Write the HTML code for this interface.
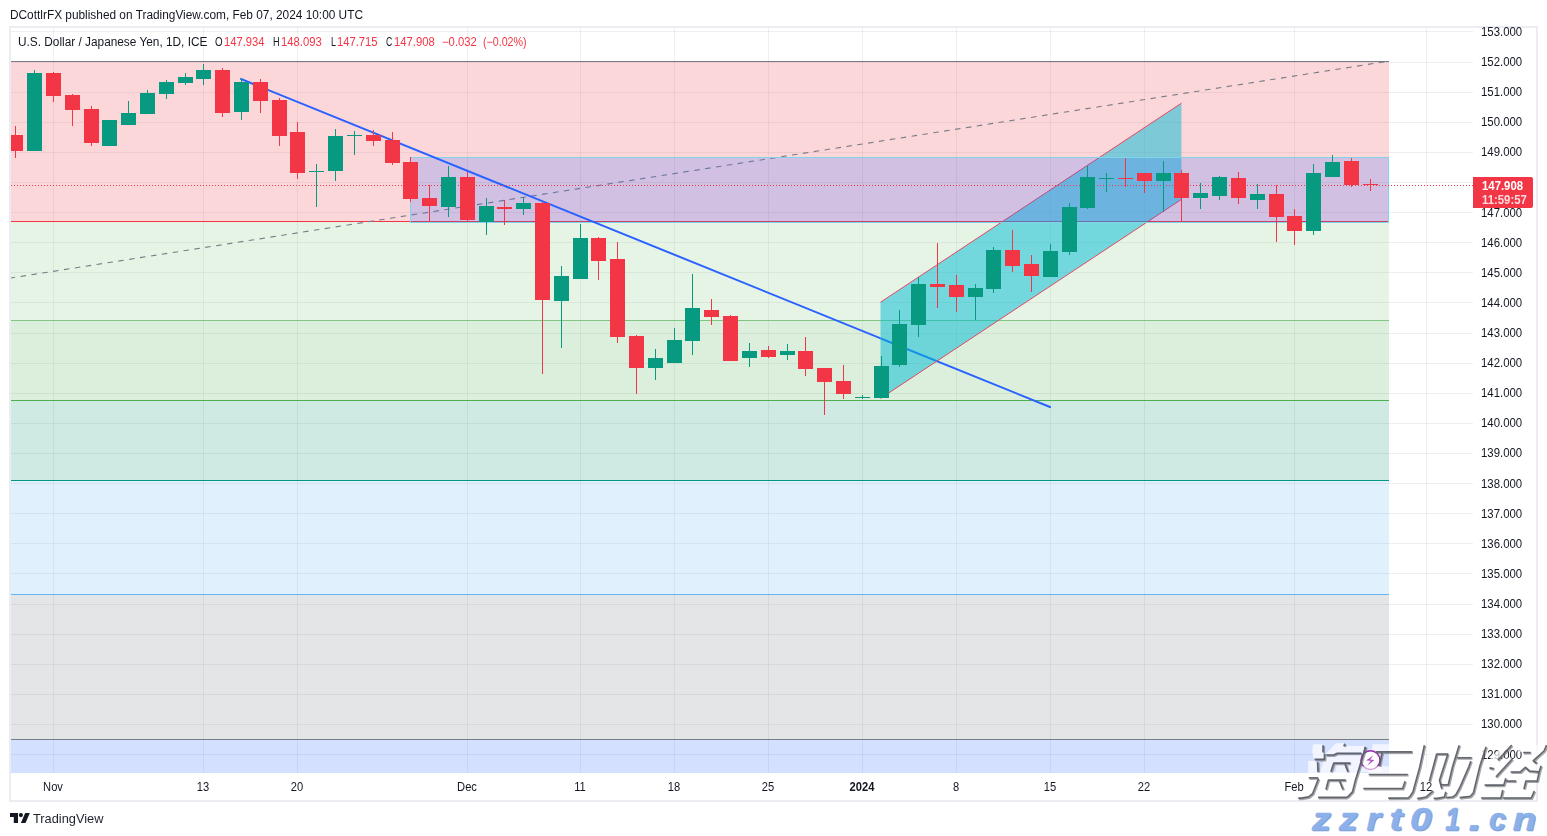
<!DOCTYPE html>
<html><head><meta charset="utf-8"><title>USDJPY</title>
<style>
html,body{margin:0;padding:0;background:#fff;}
body{width:1547px;height:836px;position:relative;overflow:hidden;font-family:"Liberation Sans",sans-serif;}
</style></head><body>
<svg width="1547" height="836" viewBox="0 0 1547 836" style="position:absolute;left:0;top:0"><rect x="10" y="27" width="1527" height="774" fill="#fff" stroke="#ebedf2" stroke-width="2"/><defs><clipPath id="pc"><rect x="11" y="28" width="1462" height="745"/></clipPath></defs><g shape-rendering="crispEdges"><rect x="53" y="28" width="1" height="745" fill="rgba(42,46,57,0.075)"/><rect x="203" y="28" width="1" height="745" fill="rgba(42,46,57,0.075)"/><rect x="297" y="28" width="1" height="745" fill="rgba(42,46,57,0.075)"/><rect x="467" y="28" width="1" height="745" fill="rgba(42,46,57,0.075)"/><rect x="580" y="28" width="1" height="745" fill="rgba(42,46,57,0.075)"/><rect x="674" y="28" width="1" height="745" fill="rgba(42,46,57,0.075)"/><rect x="768" y="28" width="1" height="745" fill="rgba(42,46,57,0.075)"/><rect x="862" y="28" width="1" height="745" fill="rgba(42,46,57,0.075)"/><rect x="956" y="28" width="1" height="745" fill="rgba(42,46,57,0.075)"/><rect x="1050" y="28" width="1" height="745" fill="rgba(42,46,57,0.075)"/><rect x="1144" y="28" width="1" height="745" fill="rgba(42,46,57,0.075)"/><rect x="1294" y="28" width="1" height="745" fill="rgba(42,46,57,0.075)"/><rect x="1426" y="28" width="1" height="745" fill="rgba(42,46,57,0.075)"/><rect x="11" y="754" width="1462" height="1" fill="rgba(42,46,57,0.075)"/><rect x="11" y="724" width="1462" height="1" fill="rgba(42,46,57,0.075)"/><rect x="11" y="694" width="1462" height="1" fill="rgba(42,46,57,0.075)"/><rect x="11" y="664" width="1462" height="1" fill="rgba(42,46,57,0.075)"/><rect x="11" y="634" width="1462" height="1" fill="rgba(42,46,57,0.075)"/><rect x="11" y="604" width="1462" height="1" fill="rgba(42,46,57,0.075)"/><rect x="11" y="573" width="1462" height="1" fill="rgba(42,46,57,0.075)"/><rect x="11" y="543" width="1462" height="1" fill="rgba(42,46,57,0.075)"/><rect x="11" y="513" width="1462" height="1" fill="rgba(42,46,57,0.075)"/><rect x="11" y="483" width="1462" height="1" fill="rgba(42,46,57,0.075)"/><rect x="11" y="453" width="1462" height="1" fill="rgba(42,46,57,0.075)"/><rect x="11" y="423" width="1462" height="1" fill="rgba(42,46,57,0.075)"/><rect x="11" y="393" width="1462" height="1" fill="rgba(42,46,57,0.075)"/><rect x="11" y="363" width="1462" height="1" fill="rgba(42,46,57,0.075)"/><rect x="11" y="333" width="1462" height="1" fill="rgba(42,46,57,0.075)"/><rect x="11" y="302" width="1462" height="1" fill="rgba(42,46,57,0.075)"/><rect x="11" y="272" width="1462" height="1" fill="rgba(42,46,57,0.075)"/><rect x="11" y="242" width="1462" height="1" fill="rgba(42,46,57,0.075)"/><rect x="11" y="212" width="1462" height="1" fill="rgba(42,46,57,0.075)"/><rect x="11" y="182" width="1462" height="1" fill="rgba(42,46,57,0.075)"/><rect x="11" y="152" width="1462" height="1" fill="rgba(42,46,57,0.075)"/><rect x="11" y="122" width="1462" height="1" fill="rgba(42,46,57,0.075)"/><rect x="11" y="92" width="1462" height="1" fill="rgba(42,46,57,0.075)"/><rect x="11" y="62" width="1462" height="1" fill="rgba(42,46,57,0.075)"/><rect x="11" y="31" width="1462" height="1" fill="rgba(42,46,57,0.075)"/><rect x="11" y="62" width="1378" height="159" fill="rgba(242,54,69,0.2)"/><rect x="11" y="222" width="1378" height="98" fill="rgba(129,199,132,0.2)"/><rect x="11" y="321" width="1378" height="79" fill="rgba(76,175,80,0.2)"/><rect x="11" y="401" width="1378" height="79" fill="rgba(15,150,115,0.2)"/><rect x="11" y="481" width="1378" height="113" fill="rgba(100,181,246,0.2)"/><rect x="11" y="595" width="1378" height="144" fill="rgba(120,123,134,0.2)"/><rect x="11" y="740" width="1378" height="33" fill="rgba(41,98,255,0.2)"/><rect x="11" y="61" width="1378" height="1" fill="#787b86"/><rect x="11" y="221" width="1378" height="1" fill="#f23645"/><rect x="11" y="320" width="1378" height="1" fill="#81c784"/><rect x="11" y="400" width="1378" height="1" fill="#4caf50"/><rect x="11" y="480" width="1378" height="1" fill="#009688"/><rect x="11" y="594" width="1378" height="1" fill="#64b5f6"/><rect x="11" y="739" width="1378" height="1" fill="#787b86"/></g><g clip-path="url(#pc)"><defs><clipPath id="bl1"><rect x="880.5" y="60" width="300" height="400"/></clipPath></defs><line x1="241" y1="79.0" x2="1050" y2="407.0" stroke="#2962ff" stroke-width="2" stroke-linecap="round" clip-path="url(#bl1)"/><line x1="-2919" y1="739.1" x2="1389" y2="61.1" stroke="#787b86" stroke-width="1.1" stroke-dasharray="5.5 5.5" stroke-dashoffset="5.3"/><polygon points="880.5,302.2 1181.4,103.2 1181.4,199.4 880.5,398.4" fill="rgba(0,188,212,0.5)"/><line x1="880.5" y1="302.2" x2="1181.4" y2="103.2" stroke="#e8405c" stroke-width="0.95"/><line x1="880.5" y1="398.4" x2="1181.4" y2="199.4" stroke="#e8405c" stroke-width="0.95"/></g><g shape-rendering="crispEdges"><rect x="411" y="158" width="978" height="64" fill="rgba(41,98,255,0.2)"/><rect x="410.5" y="157.5" width="978" height="65" fill="none" stroke="#7fd6e8" stroke-width="1"/></g><defs><clipPath id="bl2"><rect x="230" y="60" width="650.5" height="300"/></clipPath></defs><line x1="241" y1="79.0" x2="1050" y2="407.0" stroke="#2962ff" stroke-width="2" stroke-linecap="round" clip-path="url(#bl2)"/><g shape-rendering="crispEdges"><line x1="11" y1="185.5" x2="1473" y2="185.5" stroke="#f23645" stroke-width="1" stroke-dasharray="1 2"/><rect x="15" y="126" width="1" height="32" fill="#f23645"/><rect x="8" y="135" width="15" height="16" fill="#f23645"/><rect x="34" y="70" width="1" height="81" fill="#089981"/><rect x="27" y="73" width="15" height="78" fill="#089981"/><rect x="53" y="72" width="1" height="30" fill="#f23645"/><rect x="46" y="73" width="15" height="23" fill="#f23645"/><rect x="72" y="94" width="1" height="32" fill="#f23645"/><rect x="65" y="95" width="15" height="15" fill="#f23645"/><rect x="91" y="106" width="1" height="40" fill="#f23645"/><rect x="84" y="109" width="15" height="34" fill="#f23645"/><rect x="109" y="120" width="1" height="26" fill="#089981"/><rect x="102" y="120" width="15" height="26" fill="#089981"/><rect x="128" y="101" width="1" height="24" fill="#089981"/><rect x="121" y="113" width="15" height="12" fill="#089981"/><rect x="147" y="90" width="1" height="24" fill="#089981"/><rect x="140" y="93" width="15" height="21" fill="#089981"/><rect x="166" y="80" width="1" height="19" fill="#089981"/><rect x="159" y="82" width="15" height="12" fill="#089981"/><rect x="185" y="73" width="1" height="12" fill="#089981"/><rect x="178" y="77" width="15" height="6" fill="#089981"/><rect x="203" y="64" width="1" height="21" fill="#089981"/><rect x="196" y="70" width="15" height="9" fill="#089981"/><rect x="222" y="68" width="1" height="49" fill="#f23645"/><rect x="215" y="70" width="15" height="43" fill="#f23645"/><rect x="241" y="78" width="1" height="42" fill="#089981"/><rect x="234" y="82" width="15" height="30" fill="#089981"/><rect x="260" y="79" width="1" height="34" fill="#f23645"/><rect x="253" y="82" width="15" height="19" fill="#f23645"/><rect x="279" y="98" width="1" height="48" fill="#f23645"/><rect x="272" y="100" width="15" height="36" fill="#f23645"/><rect x="297" y="122" width="1" height="57" fill="#f23645"/><rect x="290" y="132" width="15" height="41" fill="#f23645"/><rect x="316" y="164" width="1" height="43" fill="#089981"/><rect x="309" y="171" width="15" height="1" fill="#089981"/><rect x="335" y="129" width="1" height="52" fill="#089981"/><rect x="328" y="136" width="15" height="35" fill="#089981"/><rect x="354" y="131" width="1" height="24" fill="#089981"/><rect x="347" y="135" width="15" height="1" fill="#089981"/><rect x="373" y="130" width="1" height="16" fill="#f23645"/><rect x="366" y="135" width="15" height="6" fill="#f23645"/><rect x="392" y="132" width="1" height="33" fill="#f23645"/><rect x="385" y="140" width="15" height="23" fill="#f23645"/><rect x="410" y="157" width="1" height="45" fill="#f23645"/><rect x="403" y="162" width="15" height="37" fill="#f23645"/><rect x="429" y="185" width="1" height="37" fill="#f23645"/><rect x="422" y="198" width="15" height="8" fill="#f23645"/><rect x="448" y="166" width="1" height="51" fill="#089981"/><rect x="441" y="177" width="15" height="30" fill="#089981"/><rect x="467" y="172" width="1" height="50" fill="#f23645"/><rect x="460" y="177" width="15" height="43" fill="#f23645"/><rect x="486" y="198" width="1" height="37" fill="#089981"/><rect x="479" y="206" width="15" height="16" fill="#089981"/><rect x="504" y="200" width="1" height="25" fill="#f23645"/><rect x="497" y="207" width="15" height="2" fill="#f23645"/><rect x="523" y="197" width="1" height="18" fill="#089981"/><rect x="516" y="203" width="15" height="6" fill="#089981"/><rect x="542" y="202" width="1" height="172" fill="#f23645"/><rect x="535" y="203" width="15" height="97" fill="#f23645"/><rect x="561" y="266" width="1" height="82" fill="#089981"/><rect x="554" y="276" width="15" height="25" fill="#089981"/><rect x="580" y="224" width="1" height="55" fill="#089981"/><rect x="573" y="238" width="15" height="41" fill="#089981"/><rect x="598" y="237" width="1" height="43" fill="#f23645"/><rect x="591" y="238" width="15" height="23" fill="#f23645"/><rect x="617" y="242" width="1" height="101" fill="#f23645"/><rect x="610" y="259" width="15" height="78" fill="#f23645"/><rect x="636" y="335" width="1" height="59" fill="#f23645"/><rect x="629" y="336" width="15" height="32" fill="#f23645"/><rect x="655" y="349" width="1" height="31" fill="#089981"/><rect x="648" y="358" width="15" height="10" fill="#089981"/><rect x="674" y="328" width="1" height="35" fill="#089981"/><rect x="667" y="340" width="15" height="23" fill="#089981"/><rect x="692" y="274" width="1" height="81" fill="#089981"/><rect x="685" y="308" width="15" height="33" fill="#089981"/><rect x="711" y="299" width="1" height="26" fill="#f23645"/><rect x="704" y="310" width="15" height="7" fill="#f23645"/><rect x="730" y="315" width="1" height="46" fill="#f23645"/><rect x="723" y="316" width="15" height="45" fill="#f23645"/><rect x="749" y="343" width="1" height="24" fill="#089981"/><rect x="742" y="351" width="15" height="7" fill="#089981"/><rect x="768" y="346" width="1" height="12" fill="#f23645"/><rect x="761" y="350" width="15" height="7" fill="#f23645"/><rect x="787" y="344" width="1" height="16" fill="#089981"/><rect x="780" y="351" width="15" height="4" fill="#089981"/><rect x="805" y="337" width="1" height="39" fill="#f23645"/><rect x="798" y="351" width="15" height="18" fill="#f23645"/><rect x="824" y="368" width="1" height="47" fill="#f23645"/><rect x="817" y="368" width="15" height="14" fill="#f23645"/><rect x="843" y="365" width="1" height="34" fill="#f23645"/><rect x="836" y="381" width="15" height="13" fill="#f23645"/><rect x="862" y="395" width="1" height="4" fill="#089981"/><rect x="855" y="397" width="15" height="1" fill="#089981"/><rect x="881" y="356" width="1" height="42" fill="#089981"/><rect x="874" y="366" width="15" height="32" fill="#089981"/><rect x="899" y="310" width="1" height="57" fill="#089981"/><rect x="892" y="324" width="15" height="41" fill="#089981"/><rect x="918" y="277" width="1" height="60" fill="#089981"/><rect x="911" y="284" width="15" height="41" fill="#089981"/><rect x="937" y="243" width="1" height="65" fill="#f23645"/><rect x="930" y="284" width="15" height="3" fill="#f23645"/><rect x="956" y="275" width="1" height="37" fill="#f23645"/><rect x="949" y="285" width="15" height="12" fill="#f23645"/><rect x="975" y="284" width="1" height="36" fill="#089981"/><rect x="968" y="288" width="15" height="9" fill="#089981"/><rect x="993" y="247" width="1" height="46" fill="#089981"/><rect x="986" y="250" width="15" height="39" fill="#089981"/><rect x="1012" y="230" width="1" height="42" fill="#f23645"/><rect x="1005" y="250" width="15" height="16" fill="#f23645"/><rect x="1031" y="255" width="1" height="37" fill="#f23645"/><rect x="1024" y="264" width="15" height="12" fill="#f23645"/><rect x="1050" y="244" width="1" height="33" fill="#089981"/><rect x="1043" y="251" width="15" height="26" fill="#089981"/><rect x="1069" y="203" width="1" height="52" fill="#089981"/><rect x="1062" y="207" width="15" height="45" fill="#089981"/><rect x="1087" y="166" width="1" height="43" fill="#089981"/><rect x="1080" y="177" width="15" height="31" fill="#089981"/><rect x="1106" y="173" width="1" height="19" fill="#089981"/><rect x="1099" y="178" width="15" height="1" fill="#089981"/><rect x="1125" y="158" width="1" height="29" fill="#f23645"/><rect x="1118" y="178" width="15" height="1" fill="#f23645"/><rect x="1144" y="173" width="1" height="20" fill="#f23645"/><rect x="1137" y="173" width="15" height="8" fill="#f23645"/><rect x="1163" y="161" width="1" height="51" fill="#089981"/><rect x="1156" y="173" width="15" height="8" fill="#089981"/><rect x="1181" y="170" width="1" height="51" fill="#f23645"/><rect x="1174" y="173" width="15" height="25" fill="#f23645"/><rect x="1200" y="183" width="1" height="26" fill="#089981"/><rect x="1193" y="193" width="15" height="5" fill="#089981"/><rect x="1219" y="176" width="1" height="24" fill="#089981"/><rect x="1212" y="177" width="15" height="19" fill="#089981"/><rect x="1238" y="172" width="1" height="32" fill="#f23645"/><rect x="1231" y="178" width="15" height="20" fill="#f23645"/><rect x="1257" y="184" width="1" height="25" fill="#089981"/><rect x="1250" y="194" width="15" height="6" fill="#089981"/><rect x="1276" y="185" width="1" height="57" fill="#f23645"/><rect x="1269" y="194" width="15" height="23" fill="#f23645"/><rect x="1294" y="209" width="1" height="36" fill="#f23645"/><rect x="1287" y="216" width="15" height="15" fill="#f23645"/><rect x="1313" y="164" width="1" height="71" fill="#089981"/><rect x="1306" y="173" width="15" height="58" fill="#089981"/><rect x="1332" y="155" width="1" height="22" fill="#089981"/><rect x="1325" y="162" width="15" height="15" fill="#089981"/><rect x="1351" y="158" width="1" height="29" fill="#f23645"/><rect x="1344" y="161" width="15" height="24" fill="#f23645"/><rect x="1370" y="179" width="1" height="12" fill="#f23645"/><rect x="1363" y="184" width="15" height="1" fill="#f23645"/></g><rect x="0" y="100" width="9" height="80" fill="#fff"/><rect x="9" y="100" width="2" height="80" fill="#ebedf2"/><path d="M1473 177h58a2 2 0 0 1 2 2v27a2 2 0 0 1 -2 2h-58z" fill="#f23645"/><g fill="#131722"><path d="M10 813h8v10h-4.2v-5.9h-3.8z"/><circle cx="20.9" cy="815.1" r="2.1"/><path d="M25.2 813h4.6l-4.3 10h-4.6z"/></g></svg>
<div style="position:absolute;left:10.2px;top:9.04px;font-size:12px;line-height:13.80px;font-weight:400;color:#131722;white-space:pre;transform-origin:left center;transform:scaleX(0.9879);">DCottlrFX published on TradingView.com, Feb 07, 2024 10:00 UTC</div><div style="position:absolute;left:18.3px;top:36.04px;font-size:12px;line-height:13.80px;font-weight:400;color:#131722;white-space:pre;transform-origin:left center;transform:scaleX(0.9859);">U.S. Dollar / Japanese Yen, 1D, ICE</div><div style="position:absolute;left:215px;top:36.04px;font-size:12px;line-height:13.80px;font-weight:400;color:#131722;white-space:pre;transform-origin:left center;transform:scaleX(0.8137);">O</div><div style="position:absolute;left:224.3px;top:36.04px;font-size:12px;line-height:13.80px;font-weight:400;color:#f23645;white-space:pre;transform-origin:left center;transform:scaleX(0.9357);">147.934</div><div style="position:absolute;left:273.1px;top:36.04px;font-size:12px;line-height:13.80px;font-weight:400;color:#131722;white-space:pre;transform-origin:left center;transform:scaleX(0.7612);">H</div><div style="position:absolute;left:281.3px;top:36.04px;font-size:12px;line-height:13.80px;font-weight:400;color:#f23645;white-space:pre;transform-origin:left center;transform:scaleX(0.9380);">148.093</div><div style="position:absolute;left:330.7px;top:36.04px;font-size:12px;line-height:13.80px;font-weight:400;color:#131722;white-space:pre;transform-origin:left center;transform:scaleX(0.7474);">L</div><div style="position:absolute;left:336.8px;top:36.04px;font-size:12px;line-height:13.80px;font-weight:400;color:#f23645;white-space:pre;transform-origin:left center;transform:scaleX(0.9334);">147.715</div><div style="position:absolute;left:385.7px;top:36.04px;font-size:12px;line-height:13.80px;font-weight:400;color:#131722;white-space:pre;transform-origin:left center;transform:scaleX(0.7266);">C</div><div style="position:absolute;left:393.5px;top:36.04px;font-size:12px;line-height:13.80px;font-weight:400;color:#f23645;white-space:pre;transform-origin:left center;transform:scaleX(0.9380);">147.908</div><div style="position:absolute;left:442.4px;top:36.04px;font-size:12px;line-height:13.80px;font-weight:400;color:#f23645;white-space:pre;transform-origin:left center;transform:scaleX(0.9420);">−0.032</div><div style="position:absolute;left:482.5px;top:36.04px;font-size:12px;line-height:13.80px;font-weight:400;color:#f23645;white-space:pre;transform-origin:left center;transform:scaleX(0.8893);">(−0.02%)</div><div style="position:absolute;left:1481.1px;top:749.24px;font-size:12px;line-height:13.80px;font-weight:400;color:#131722;white-space:pre;transform-origin:left center;transform:scaleX(0.9495);">129.000</div><div style="position:absolute;left:1481.1px;top:718.24px;font-size:12px;line-height:13.80px;font-weight:400;color:#131722;white-space:pre;transform-origin:left center;transform:scaleX(0.9495);">130.000</div><div style="position:absolute;left:1481.1px;top:688.24px;font-size:12px;line-height:13.80px;font-weight:400;color:#131722;white-space:pre;transform-origin:left center;transform:scaleX(0.9495);">131.000</div><div style="position:absolute;left:1481.1px;top:658.24px;font-size:12px;line-height:13.80px;font-weight:400;color:#131722;white-space:pre;transform-origin:left center;transform:scaleX(0.9495);">132.000</div><div style="position:absolute;left:1481.1px;top:628.24px;font-size:12px;line-height:13.80px;font-weight:400;color:#131722;white-space:pre;transform-origin:left center;transform:scaleX(0.9495);">133.000</div><div style="position:absolute;left:1481.1px;top:598.24px;font-size:12px;line-height:13.80px;font-weight:400;color:#131722;white-space:pre;transform-origin:left center;transform:scaleX(0.9495);">134.000</div><div style="position:absolute;left:1481.1px;top:568.24px;font-size:12px;line-height:13.80px;font-weight:400;color:#131722;white-space:pre;transform-origin:left center;transform:scaleX(0.9495);">135.000</div><div style="position:absolute;left:1481.1px;top:538.24px;font-size:12px;line-height:13.80px;font-weight:400;color:#131722;white-space:pre;transform-origin:left center;transform:scaleX(0.9495);">136.000</div><div style="position:absolute;left:1481.1px;top:508.24px;font-size:12px;line-height:13.80px;font-weight:400;color:#131722;white-space:pre;transform-origin:left center;transform:scaleX(0.9495);">137.000</div><div style="position:absolute;left:1481.1px;top:478.24px;font-size:12px;line-height:13.80px;font-weight:400;color:#131722;white-space:pre;transform-origin:left center;transform:scaleX(0.9495);">138.000</div><div style="position:absolute;left:1481.1px;top:447.24px;font-size:12px;line-height:13.80px;font-weight:400;color:#131722;white-space:pre;transform-origin:left center;transform:scaleX(0.9495);">139.000</div><div style="position:absolute;left:1481.1px;top:417.24px;font-size:12px;line-height:13.80px;font-weight:400;color:#131722;white-space:pre;transform-origin:left center;transform:scaleX(0.9495);">140.000</div><div style="position:absolute;left:1481.1px;top:387.24px;font-size:12px;line-height:13.80px;font-weight:400;color:#131722;white-space:pre;transform-origin:left center;transform:scaleX(0.9495);">141.000</div><div style="position:absolute;left:1481.1px;top:357.24px;font-size:12px;line-height:13.80px;font-weight:400;color:#131722;white-space:pre;transform-origin:left center;transform:scaleX(0.9495);">142.000</div><div style="position:absolute;left:1481.1px;top:327.24px;font-size:12px;line-height:13.80px;font-weight:400;color:#131722;white-space:pre;transform-origin:left center;transform:scaleX(0.9495);">143.000</div><div style="position:absolute;left:1481.1px;top:297.24px;font-size:12px;line-height:13.80px;font-weight:400;color:#131722;white-space:pre;transform-origin:left center;transform:scaleX(0.9495);">144.000</div><div style="position:absolute;left:1481.1px;top:267.24px;font-size:12px;line-height:13.80px;font-weight:400;color:#131722;white-space:pre;transform-origin:left center;transform:scaleX(0.9495);">145.000</div><div style="position:absolute;left:1481.1px;top:237.24px;font-size:12px;line-height:13.80px;font-weight:400;color:#131722;white-space:pre;transform-origin:left center;transform:scaleX(0.9495);">146.000</div><div style="position:absolute;left:1481.1px;top:207.24px;font-size:12px;line-height:13.80px;font-weight:400;color:#131722;white-space:pre;transform-origin:left center;transform:scaleX(0.9495);">147.000</div><div style="position:absolute;left:1481.1px;top:146.24px;font-size:12px;line-height:13.80px;font-weight:400;color:#131722;white-space:pre;transform-origin:left center;transform:scaleX(0.9495);">149.000</div><div style="position:absolute;left:1481.1px;top:116.24px;font-size:12px;line-height:13.80px;font-weight:400;color:#131722;white-space:pre;transform-origin:left center;transform:scaleX(0.9495);">150.000</div><div style="position:absolute;left:1481.1px;top:86.24px;font-size:12px;line-height:13.80px;font-weight:400;color:#131722;white-space:pre;transform-origin:left center;transform:scaleX(0.9495);">151.000</div><div style="position:absolute;left:1481.1px;top:56.24px;font-size:12px;line-height:13.80px;font-weight:400;color:#131722;white-space:pre;transform-origin:left center;transform:scaleX(0.9495);">152.000</div><div style="position:absolute;left:1481.1px;top:26.24px;font-size:12px;line-height:13.80px;font-weight:400;color:#131722;white-space:pre;transform-origin:left center;transform:scaleX(0.9495);">153.000</div><div style="position:absolute;left:1481.8px;top:179.94px;font-size:12px;line-height:13.80px;font-weight:700;color:#fff;white-space:pre;transform-origin:left center;transform:scaleX(0.9472);">147.908</div><div style="position:absolute;left:1481.8px;top:193.84px;font-size:12px;line-height:13.80px;font-weight:700;color:rgba(255,255,255,0.82);white-space:pre;transform-origin:left center;transform:scaleX(0.9455);">11:59:57</div><div style="position:absolute;left:-47.3px;width:200px;text-align:center;top:781.04px;font-size:12px;line-height:13.80px;font-weight:400;color:#131722;white-space:pre;transform-origin:center center;transform:scaleX(0.9300);">Nov</div><div style="position:absolute;left:102.69999999999999px;width:200px;text-align:center;top:781.04px;font-size:12px;line-height:13.80px;font-weight:400;color:#131722;white-space:pre;transform-origin:center center;transform:scaleX(0.9300);">13</div><div style="position:absolute;left:196.7px;width:200px;text-align:center;top:781.04px;font-size:12px;line-height:13.80px;font-weight:400;color:#131722;white-space:pre;transform-origin:center center;transform:scaleX(0.9300);">20</div><div style="position:absolute;left:366.7px;width:200px;text-align:center;top:781.04px;font-size:12px;line-height:13.80px;font-weight:400;color:#131722;white-space:pre;transform-origin:center center;transform:scaleX(0.9300);">Dec</div><div style="position:absolute;left:479.70000000000005px;width:200px;text-align:center;top:781.04px;font-size:12px;line-height:13.80px;font-weight:400;color:#131722;white-space:pre;transform-origin:center center;transform:scaleX(0.9300);">11</div><div style="position:absolute;left:573.7px;width:200px;text-align:center;top:781.04px;font-size:12px;line-height:13.80px;font-weight:400;color:#131722;white-space:pre;transform-origin:center center;transform:scaleX(0.9300);">18</div><div style="position:absolute;left:667.7px;width:200px;text-align:center;top:781.04px;font-size:12px;line-height:13.80px;font-weight:400;color:#131722;white-space:pre;transform-origin:center center;transform:scaleX(0.9300);">25</div><div style="position:absolute;left:761.7px;width:200px;text-align:center;top:781.04px;font-size:12px;line-height:13.80px;font-weight:700;color:#131722;white-space:pre;transform-origin:center center;transform:scaleX(0.9300);">2024</div><div style="position:absolute;left:855.7px;width:200px;text-align:center;top:781.04px;font-size:12px;line-height:13.80px;font-weight:400;color:#131722;white-space:pre;transform-origin:center center;transform:scaleX(0.9300);">8</div><div style="position:absolute;left:949.7px;width:200px;text-align:center;top:781.04px;font-size:12px;line-height:13.80px;font-weight:400;color:#131722;white-space:pre;transform-origin:center center;transform:scaleX(0.9300);">15</div><div style="position:absolute;left:1043.7px;width:200px;text-align:center;top:781.04px;font-size:12px;line-height:13.80px;font-weight:400;color:#131722;white-space:pre;transform-origin:center center;transform:scaleX(0.9300);">22</div><div style="position:absolute;left:1193.7px;width:200px;text-align:center;top:781.04px;font-size:12px;line-height:13.80px;font-weight:400;color:#131722;white-space:pre;transform-origin:center center;transform:scaleX(0.9300);">Feb</div><div style="position:absolute;left:1325.7px;width:200px;text-align:center;top:781.04px;font-size:12px;line-height:13.80px;font-weight:400;color:#131722;white-space:pre;transform-origin:center center;transform:scaleX(0.9300);">12</div><div style="position:absolute;left:33.2px;top:812.13px;font-size:13px;line-height:14.95px;font-weight:400;color:#1e222d;white-space:pre;transform-origin:left center;transform:scaleX(0.9839);">TradingView</div>
<svg width="1547" height="836" viewBox="0 0 1547 836" style="position:absolute;left:0;top:0"><defs><mask id="wmk" maskUnits="userSpaceOnUse" x="1290" y="735" width="257" height="70"><g fill="#fff"><polygon points="1312.9,744.2 1322.3,744.2 1322.3,752.3 1323.8,752.3 1323.8,758.7 1313.7,758.7 1312.3,752.0"/><polygon points="1308.2,761.1 1317.1,761.1 1317.3,777.0 1308.2,777.0"/><polygon points="1309.0,778.5 1317.8,778.0 1312.0,793.3 1308.0,796.2 1300.5,797.4 1297.6,797.4 1297.8,794.5 1302.0,791.0 1306.0,784.0"/><polygon points="1335.8,743.2 1344.6,743.2 1343.2,746.1 1364.8,746.1 1363.3,752.5 1336.8,752.5 1333.3,754.3 1325.4,754.3"/><polygon points="1325.0,755.0 1361.6,755.0 1357.4,771.4 1354.9,779.8 1352.0,791.3 1347.6,795.8 1346.0,796.6 1317.6,796.6 1319.5,790.0 1320.6,771.4"/><polygon points="1308.2,772.3 1362.0,772.3 1360.8,777.2 1308.2,777.2"/><polygon points="1372.7,744.2 1424.0,744.2 1419.4,766.0 1412.5,791.3 1410.0,795.3 1407.4,797.4 1387.6,797.4 1388.6,790.8 1401.8,790.8 1407.4,774.0 1368.2,774.0"/><polygon points="1364.2,780.7 1404.6,780.7 1402.4,787.8 1362.7,787.8"/><polygon points="1431.3,745.5 1458.9,745.5 1447.9,784.4 1434.0,784.4 1434.8,781.0 1423.2,781.0"/><polygon points="1424.0,792.5 1431.0,792.0 1425.6,796.4 1418.5,797.6 1416.5,797.6 1417.0,794.5"/><polygon points="1438.5,780.0 1445.0,784.0 1445.4,791.5 1443.8,796.3 1436.5,797.6 1433.0,797.6 1436.0,792.0"/><polygon points="1458.0,749.5 1476.0,749.5 1474.0,757.0 1456.0,757.0"/><polygon points="1477.5,745.5 1486.0,745.5 1479.4,766.0 1473.0,792.3 1470.0,795.7 1459.0,797.0 1457.0,797.0 1458.5,790.5 1464.5,790.5 1470.0,766.0"/><polygon points="1462.0,757.0 1470.8,757.0 1468.6,766.0 1459.2,787.4 1455.3,794.2 1452.3,796.2 1445.5,796.8 1447.0,790.5 1451.5,787.0"/><polygon points="1503.0,744.5 1511.5,744.5 1497.5,759.8 1489.3,759.8"/><polygon points="1503.5,758.5 1512.0,758.5 1495.6,776.5 1487.0,776.5"/><polygon points="1485.5,777.5 1505.5,777.5 1503.4,784.5 1484.0,784.5"/><polygon points="1482.0,790.0 1502.5,790.0 1500.5,797.3 1480.5,797.3"/><polygon points="1519.0,745.0 1546.5,745.0 1544.0,750.3 1533.0,760.0 1524.0,760.0 1530.0,752.0 1517.5,752.0"/><polygon points="1511.0,764.5 1520.0,764.5 1525.0,759.5 1541.0,764.5 1539.0,771.3 1529.0,770.3 1525.0,766.6 1520.0,771.3 1510.0,771.3"/><polygon points="1506.5,773.5 1538.6,773.5 1536.8,780.5 1505.0,780.5"/><polygon points="1517.0,780.5 1526.0,780.5 1523.5,790.5 1514.5,790.5"/><polygon points="1503.5,790.3 1534.0,790.3 1531.0,797.3 1502.0,797.3"/></g><g fill="#000"><polygon points="1333.5,762.5 1350.3,762.5 1347.6,771.9 1330.6,771.9"/><polygon points="1328.1,779.5 1345.6,779.5 1342.9,789.6 1325.7,789.6"/><polygon points="1381.5,751.2 1412.0,751.2 1408.8,766.2 1378.8,766.2"/><polygon points="1436.6,753.9 1447.2,753.9 1439.7,780.5 1429.2,780.5"/></g><g fill="#fff"><polygon points="1337.0,762.5 1344.4,762.5 1347.4,771.9 1335.5,771.9"/><polygon points="1332.0,779.5 1339.0,779.5 1342.5,789.6 1330.5,789.6"/></g></mask><filter id="wb" x="-5%" y="-5%" width="110%" height="110%"><feGaussianBlur stdDeviation="0.6"/></filter><filter id="wc" x="-5%" y="-5%" width="110%" height="110%"><feGaussianBlur stdDeviation="0.3"/></filter></defs><rect x="1290" y="735" width="257" height="70" fill="#fff" opacity="0.70" mask="url(#wmk)"/><g transform="translate(1370.5,760.1)"><circle r="9.45" fill="#fff" stroke="#9c27b0" stroke-width="1.5"/><path d="M2.95,-4.9 L-4.4,0.5 L0.25,0.75 L-3.4,5.65 L3.9,0 L-0.25,-0.5 Z" fill="#b052c2"/></g><path d="M1360 766.2h22v6h-22z" fill="#fff" opacity="0.55"/><g fill="none" stroke="#6a6d75" stroke-width="2.4" stroke-linejoin="round" opacity="0.6" transform="translate(1.0,1.0)" filter="url(#wb)"><polyline points="1322.9,745.0 1322.9,752.0"/><polyline points="1324.3,753.3 1324.3,759.2 1314.4,759.2"/><polyline points="1317.4,761.8 1317.8,771.6"/><polyline points="1308.6,777.7 1317.8,777.7"/><polyline points="1318.3,778.5 1312.4,793.6 1308.4,796.7 1300.9,798.0 1298.0,798.0"/><polyline points="1344.9,743.6 1343.6,746.0"/><polyline points="1365.1,746.6 1363.8,752.6"/><polyline points="1361.3,753.1 1337.0,753.1 1333.5,754.9 1326.0,754.9"/><polyline points="1365.5,747.0 1357.8,771.8 1355.2,780.0 1352.3,791.7 1348.0,796.2 1346.2,797.2 1317.8,797.2"/><polyline points="1330.7,771.7 1333.5,763.0 1350.2,763.0"/><polyline points="1344.8,763.8 1347.8,771.5"/><polyline points="1325.8,789.4 1328.2,780.0 1345.6,780.0"/><polyline points="1339.4,781.0 1342.9,789.4"/><polyline points="1375.8,751.7 1412.0,751.7"/><polyline points="1381.8,752.6 1379.3,766.0"/><polyline points="1368.5,774.4 1407.6,774.4"/><polyline points="1404.9,781.0 1402.5,788.3 1363.0,788.3"/><polyline points="1424.2,745.0 1419.7,766.2 1412.8,791.6 1410.3,795.6 1407.8,797.9 1388.0,798.0"/><polyline points="1429.2,781.0 1436.5,753.8 1447.8,753.8"/><polyline points="1447.6,754.0 1439.3,780.0 1441.6,788.5"/><polyline points="1459.0,745.0 1452.5,766.0 1448.1,784.6 1440.3,784.6"/><polyline points="1432.9,790.8 1426.0,796.8 1419.0,798.2 1417.0,798.2"/><polyline points="1445.7,791.7 1444.2,796.8 1436.8,798.2 1433.5,798.2"/><polyline points="1456.5,757.6 1471.5,757.6"/><polyline points="1470.7,760.8 1468.8,766.2 1459.4,787.8 1455.5,794.7 1452.5,796.8 1445.7,797.4"/><polyline points="1485.9,746.6 1479.6,766.2 1473.2,792.7 1470.2,796.2 1459.4,797.5"/><polyline points="1511.6,745.0 1497.7,760.0"/><polyline points="1512.0,758.9 1495.8,776.7"/><polyline points="1489.2,767.7 1493.6,768.5"/><polyline points="1523.0,752.4 1530.4,752.4"/><polyline points="1546.4,745.0 1544.0,750.6 1533.1,760.4 1536.4,763.2"/><polyline points="1510.4,771.8 1520.2,771.8 1525.1,767.1 1529.1,770.8 1539.0,771.7 1540.9,765.6"/><polyline points="1539.0,771.8 1537.0,780.9 1525.7,780.9 1523.8,788.8"/><polyline points="1505.6,778.0 1503.6,785.0 1484.4,785.0"/><polyline points="1505.6,780.9 1515.8,780.9"/><polyline points="1502.6,789.8 1500.7,797.8 1480.9,797.8"/><polyline points="1534.1,790.8 1531.1,797.8 1502.6,797.8"/></g><g fill="none" stroke="#565961" stroke-width="1.6" stroke-linejoin="round" opacity="0.85" transform="translate(0.15,0.15)" filter="url(#wc)"><polyline points="1322.9,745.0 1322.9,752.0"/><polyline points="1324.3,753.3 1324.3,759.2 1314.4,759.2"/><polyline points="1317.4,761.8 1317.8,771.6"/><polyline points="1308.6,777.7 1317.8,777.7"/><polyline points="1318.3,778.5 1312.4,793.6 1308.4,796.7 1300.9,798.0 1298.0,798.0"/><polyline points="1344.9,743.6 1343.6,746.0"/><polyline points="1365.1,746.6 1363.8,752.6"/><polyline points="1361.3,753.1 1337.0,753.1 1333.5,754.9 1326.0,754.9"/><polyline points="1365.5,747.0 1357.8,771.8 1355.2,780.0 1352.3,791.7 1348.0,796.2 1346.2,797.2 1317.8,797.2"/><polyline points="1330.7,771.7 1333.5,763.0 1350.2,763.0"/><polyline points="1344.8,763.8 1347.8,771.5"/><polyline points="1325.8,789.4 1328.2,780.0 1345.6,780.0"/><polyline points="1339.4,781.0 1342.9,789.4"/><polyline points="1375.8,751.7 1412.0,751.7"/><polyline points="1381.8,752.6 1379.3,766.0"/><polyline points="1368.5,774.4 1407.6,774.4"/><polyline points="1404.9,781.0 1402.5,788.3 1363.0,788.3"/><polyline points="1424.2,745.0 1419.7,766.2 1412.8,791.6 1410.3,795.6 1407.8,797.9 1388.0,798.0"/><polyline points="1429.2,781.0 1436.5,753.8 1447.8,753.8"/><polyline points="1447.6,754.0 1439.3,780.0 1441.6,788.5"/><polyline points="1459.0,745.0 1452.5,766.0 1448.1,784.6 1440.3,784.6"/><polyline points="1432.9,790.8 1426.0,796.8 1419.0,798.2 1417.0,798.2"/><polyline points="1445.7,791.7 1444.2,796.8 1436.8,798.2 1433.5,798.2"/><polyline points="1456.5,757.6 1471.5,757.6"/><polyline points="1470.7,760.8 1468.8,766.2 1459.4,787.8 1455.5,794.7 1452.5,796.8 1445.7,797.4"/><polyline points="1485.9,746.6 1479.6,766.2 1473.2,792.7 1470.2,796.2 1459.4,797.5"/><polyline points="1511.6,745.0 1497.7,760.0"/><polyline points="1512.0,758.9 1495.8,776.7"/><polyline points="1489.2,767.7 1493.6,768.5"/><polyline points="1523.0,752.4 1530.4,752.4"/><polyline points="1546.4,745.0 1544.0,750.6 1533.1,760.4 1536.4,763.2"/><polyline points="1510.4,771.8 1520.2,771.8 1525.1,767.1 1529.1,770.8 1539.0,771.7 1540.9,765.6"/><polyline points="1539.0,771.8 1537.0,780.9 1525.7,780.9 1523.8,788.8"/><polyline points="1505.6,778.0 1503.6,785.0 1484.4,785.0"/><polyline points="1505.6,780.9 1515.8,780.9"/><polyline points="1502.6,789.8 1500.7,797.8 1480.9,797.8"/><polyline points="1534.1,790.8 1531.1,797.8 1502.6,797.8"/></g><g font-family="Liberation Sans, sans-serif" font-weight="700" font-style="italic" font-size="32"><text transform="translate(1313.1,831.2) scale(1.16,1)" fill="#7f9fd6" stroke="#7f9fd6" stroke-width="0.6">z</text><text transform="translate(1340.0,831.2) scale(1.146,1)" fill="#7f9fd6" stroke="#7f9fd6" stroke-width="0.6">z</text><text transform="translate(1367.6,831.2) scale(1.135,1)" fill="#7f9fd6" stroke="#7f9fd6" stroke-width="0.6">r</text><text transform="translate(1390.6,831.2) scale(1.207,1)" fill="#7f9fd6" stroke="#7f9fd6" stroke-width="0.6">t</text><text transform="translate(1410.9,831.2) scale(1.207,1)" fill="#7f9fd6" stroke="#7f9fd6" stroke-width="0.6">0</text><text transform="translate(1446.3,831.2) scale(0.802,1)" fill="#7f9fd6" stroke="#7f9fd6" stroke-width="0.6">1</text><text transform="translate(1469.5,831.2) scale(1.469,1)" fill="#7f9fd6" stroke="#7f9fd6" stroke-width="0.6">.</text><text transform="translate(1490.1,831.2) scale(0.939,1)" fill="#7f9fd6" stroke="#7f9fd6" stroke-width="0.6">c</text><text transform="translate(1513.8,831.2) scale(1.193,1)" fill="#7f9fd6" stroke="#7f9fd6" stroke-width="0.6">n</text><text transform="translate(1312.1,830.2) scale(1.16,1)" fill="#8cb0e9" stroke="#8cb0e9" stroke-width="0.6">z</text><text transform="translate(1339.0,830.2) scale(1.146,1)" fill="#8cb0e9" stroke="#8cb0e9" stroke-width="0.6">z</text><text transform="translate(1366.6,830.2) scale(1.135,1)" fill="#8cb0e9" stroke="#8cb0e9" stroke-width="0.6">r</text><text transform="translate(1389.6,830.2) scale(1.207,1)" fill="#8cb0e9" stroke="#8cb0e9" stroke-width="0.6">t</text><text transform="translate(1409.9,830.2) scale(1.207,1)" fill="#8cb0e9" stroke="#8cb0e9" stroke-width="0.6">0</text><text transform="translate(1445.3,830.2) scale(0.802,1)" fill="#8cb0e9" stroke="#8cb0e9" stroke-width="0.6">1</text><text transform="translate(1468.5,830.2) scale(1.469,1)" fill="#8cb0e9" stroke="#8cb0e9" stroke-width="0.6">.</text><text transform="translate(1489.1,830.2) scale(0.939,1)" fill="#8cb0e9" stroke="#8cb0e9" stroke-width="0.6">c</text><text transform="translate(1512.8,830.2) scale(1.193,1)" fill="#8cb0e9" stroke="#8cb0e9" stroke-width="0.6">n</text></g></svg>
</body></html>
